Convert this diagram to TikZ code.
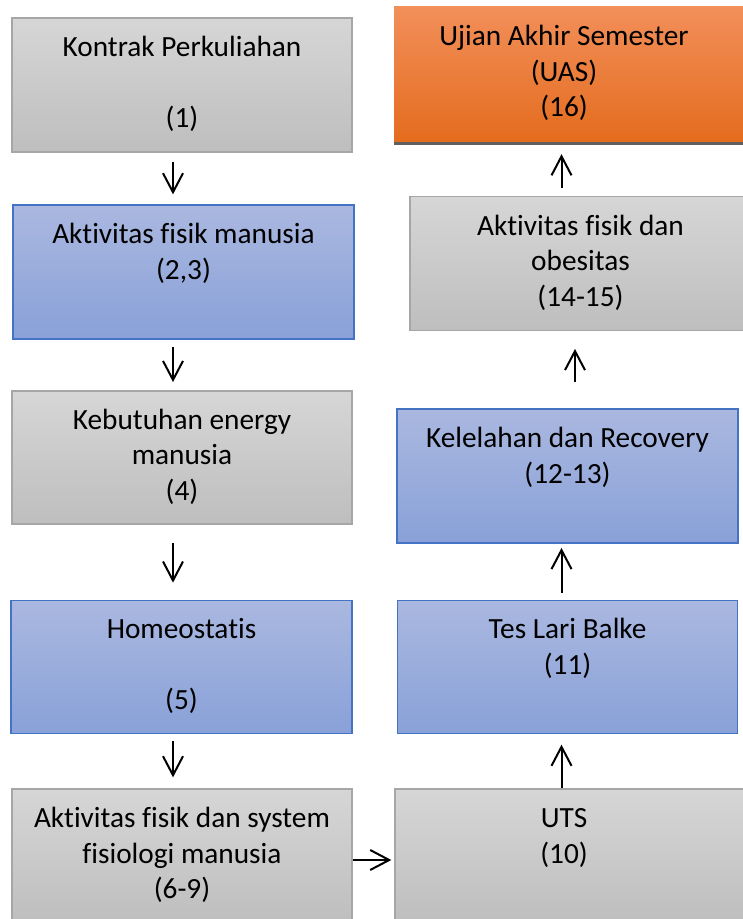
\documentclass[tikz,border=0pt]{standalone}
\usepackage{fontspec}
\setmainfont[Ligatures={NoCommon,NoDiscretionary,NoContextual}]{Carlito}
\usetikzlibrary{arrows.meta}
\definecolor{gtop}{RGB}{214,214,214}
\definecolor{gbot}{RGB}{190,190,190}
\definecolor{gline}{RGB}{166,166,166}
\definecolor{btop}{RGB}{170,184,224}
\definecolor{bbot}{RGB}{137,161,216}
\definecolor{bline}{RGB}{68,114,196}
\definecolor{otop}{RGB}{242,143,90}
\definecolor{obot}{RGB}{228,108,30}
\definecolor{oline}{RGB}{95,95,95}
\newcommand\boxfont{\fontsize{29.3}{35.5}\selectfont}
\begin{document}
\begin{tikzpicture}[x=1pt,y=-1pt,
  base/.style={rectangle, inner sep=0pt, align=center, font=\boxfont, text=black},
  graybox/.style={base, draw=gline, line width=1.3pt, top color=gtop, bottom color=gbot},
  bluebox/.style={base, draw=bline, line width=1.3pt, top color=btop, bottom color=bbot},
  orangebox/.style={base, top color=otop, bottom color=obot},
  lbl/.style={font=\boxfont, align=center, inner sep=0pt, text=black},
  arr/.style={line width=2pt, -{Straight Barb[length=19pt,width=20pt]}}
]
\useasboundingbox (0,0) rectangle (743,919);
\clip (0,0) rectangle (743,919);

% left column
\node[graybox, minimum width=340pt, minimum height=134pt] (k) at (182,85)
  {\strut Kontrak Perkuliahan\\\strut\\\strut (1)};
\node[bluebox, minimum width=341pt, minimum height=134pt] (a) at (183.5,272)
  {\strut Aktivitas fisik manusia\\\strut (2,3)\\\strut};
\node[graybox, minimum width=340pt, minimum height=133pt] (e) at (182,457.5)
  {\strut Kebutuhan energy\\\strut manusia\\\strut (4)};
\node[bluebox, minimum width=341pt, minimum height=133pt] (h) at (181.5,667.3)
  {\strut Homeostatis\\\strut\\\strut (5)};
\node[graybox, minimum width=340pt, minimum height=134pt] (s) at (182,856)
  {\strut Aktivitas fisik dan system\\\strut fisiologi manusia\\\strut (6-9)};

% right column
\node[graybox, minimum width=357pt, minimum height=134pt,
  label={[name=ut, lbl, xshift=-9.5pt]center:{\strut UTS\\\strut (10)\\\strut}}] (u) at (573.5,856) {};
\node[bluebox, minimum width=340pt, minimum height=133pt] (t) at (567.5,667.3)
  {\strut Tes Lari Balke\\\strut (11)\\\strut};
\node[bluebox, minimum width=341pt, minimum height=134pt] (r) at (567.5,476)
  {\strut Kelelahan dan Recovery\\\strut (12-13)\\\strut};
\node[graybox, minimum width=341pt, minimum height=134pt] (o) at (580.5,263.7)
  {\strut Aktivitas fisik dan\\\strut obesitas\\\strut (14-15)};
\node[orangebox, minimum width=358pt, minimum height=135pt,
  label={[name=uast, lbl, xshift=-9pt]center:{\strut Ujian Akhir Semester\\\strut (UAS)\\\strut (16)}}] (uas) at (573,74) {};
\draw[oline, line width=3pt] ([yshift=-1.5pt]uas.south west) -- ([yshift=-1.5pt]uas.south east);

% helper coordinates for arrow lines
\coordinate (xl) at (173,0);
\coordinate (xr) at (561.5,0);
\coordinate (xr2) at (575,0);
\coordinate (yr) at (0,860);

% arrows
\draw[arr, shorten <=9pt, shorten >=10pt] (k.south -| xl) -- (a.north -| xl);
\draw[arr, shorten <=7.7pt, shorten >=8.3pt] (a.south -| xl) -- (e.north -| xl);
\draw[arr, shorten <=18.7pt, shorten >=17.5pt] (e.south -| xl) -- (h.north -| xl);
\draw[arr, shorten <=6.2pt, shorten >=11pt] (h.south -| xl) -- (s.north -| xl);
\draw[arr, shorten >=3pt] (s.east |- yr) -- (u.west |- yr);
\draw[arr, shorten >=10.2pt] (u.north -| xr) -- (t.south -| xr);
\draw[arr, shorten <=6.8pt, shorten >=4.3pt] (t.north -| xr) -- (r.south -| xr);
\draw[arr, shorten <=26.7pt, shorten >=17.6pt] (r.north -| xr2) -- (o.south -| xr2);
\draw[arr, shorten <=8.4pt, shorten >=12.5pt] (o.north -| xr) -- (uas.south -| xr);
\end{tikzpicture}
\end{document}
